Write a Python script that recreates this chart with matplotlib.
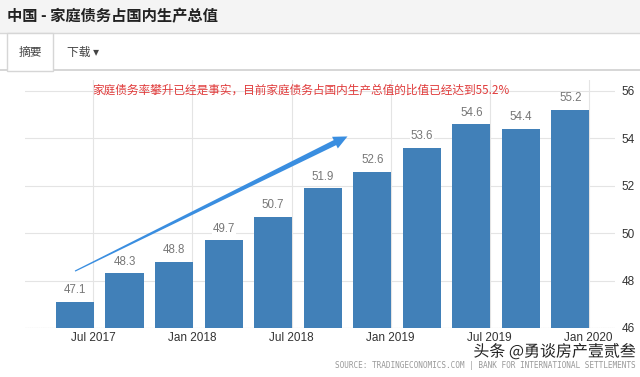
import matplotlib
matplotlib.use("Agg")
from matplotlib import pyplot as plt
from matplotlib.patches import Rectangle, Polygon
from matplotlib.lines import Line2D
import matplotlib.patheffects as pe
import numpy as np

# 数据
quarters = ["2017Q2", "2017Q3", "2017Q4", "2018Q1", "2018Q2", "2018Q3",
            "2018Q4", "2019Q1", "2019Q2", "2019Q3", "2019Q4"]
values = [47.1, 48.3, 48.8, 49.7, 50.7, 51.9, 52.6, 53.6, 54.6, 54.4, 55.2]
tick_labels = ["Jul 2017", "Jan 2018", "Jul 2018", "Jan 2019", "Jul 2019", "Jan 2020"]
tick_after = [0, 2, 4, 6, 8, 10]   # tick sits at the right edge of these bars
y_ticks = [46, 48, 50, 52, 54, 56]

title = "中国 - 家庭债务占国内生产总值"
note = "家庭债务率攀升已经是事实，目前家庭债务占国内生产总值的比值已经达到55.2%"
source = "SOURCE: TRADINGECONOMICS.COM | BANK FOR INTERNATIONAL SETTLEMENTS"
watermark = "头条 @勇谈房产壹贰叁"

CJK = ["Noto Sans CJK SC", "DejaVu Sans"]
NARROW = ["Liberation Sans Narrow", "Liberation Sans", "DejaVu Sans"]
BAR = "#4180b8"

fig = plt.figure(figsize=(6.4, 3.77), dpi=100)
fig.patch.set_facecolor("white")

# 页头
fig.patches.append(Rectangle((0, 1 - 33 / 377), 1, 33 / 377, transform=fig.transFigure,
                             facecolor="#f4f4f4", edgecolor="none", zorder=0))
fig.add_artist(Line2D([0, 1], [1 - 33 / 377] * 2, color="#d8d8d8", lw=1))
fig.add_artist(Line2D([0, 1], [1 - 70 / 377] * 2, color="#d0d0d0", lw=1.2))
fig.patches.append(Rectangle((7 / 640, 1 - 71 / 377), 46 / 640, 38 / 377, transform=fig.transFigure,
                             facecolor="white", edgecolor="#d6d6d6", lw=1, zorder=2))
fig.text(7 / 640, 1 - 16 / 377, title, family=CJK, fontsize=11, fontweight="bold",
         color="#222222", va="center", ha="left")
fig.text(30 / 640, 1 - 52 / 377, "摘要", family=CJK, fontsize=8.5, color="#444444",
         va="center", ha="center", zorder=3)
fig.text(67 / 640, 1 - 52 / 377, "下载 ▾", family=CJK, fontsize=8.5,
         color="#444444", va="center", ha="left")

# 图表
ax = fig.add_axes([25 / 640, 1 - 328 / 377, 590 / 640, 248 / 377])
x = list(range(len(values)))
ax.bar(x, [v - 46 for v in values], bottom=46, width=0.77, color=BAR, zorder=2)
for xi, v in zip(x, values):
    ax.annotate(f"{v:.1f}", (xi, v), xytext=(0, 4), textcoords="offset points",
                ha="center", va="bottom", fontsize=8.3, family=NARROW, color="#777777",
                bbox=dict(facecolor="white", edgecolor="none", pad=0.5), zorder=3)

ax.set_xlim(-1.01, 10.9)
ax.set_ylim(46, 56.46)
ax.set_xticks([i + 0.37 for i in tick_after])
ax.set_xticklabels(tick_labels, family=NARROW, fontsize=8.5, color="#333333")
ax.set_yticks(y_ticks)
ax.set_yticklabels([str(t) for t in y_ticks], family=NARROW, fontsize=8.5, color="#333333")
ax.yaxis.tick_right()
ax.tick_params(axis="both", length=0, pad=3)
ax.tick_params(axis="y", pad=5)
ax.grid(True, color="#e4e4e4", lw=0.8, zorder=0)
ax.set_axisbelow(True)
for s in ax.spines.values():
    s.set_visible(False)
ax.axhline(46, color="#cccccc", lw=0.8, ls=(0, (1, 1)), zorder=1)

# 箭头（尾部细、头部粗）
fig.canvas.draw()
p0 = ax.transData.transform((0, 48.4))
p1 = ax.transData.transform((5.5, 54.08))
d = (p1 - p0) / np.linalg.norm(p1 - p0)
n = np.array([-d[1], d[0]])
L = np.linalg.norm(p1 - p0)
head_len, head_w, tail_w0, tail_w1 = 14, 6.5, 0.6, 2.8
base = p0 + d * (L - head_len)
pts = [p0 + n * tail_w0, base + n * tail_w1, base + n * head_w, p1,
       base - n * head_w, base - n * tail_w1, p0 - n * tail_w0]
pts = ax.transData.inverted().transform(np.array(pts))
ax.add_patch(Polygon(pts, closed=True, facecolor="#3a8ee0", edgecolor="none", zorder=4))

fig.text(92 / 640, 1 - 90 / 377, note, family=CJK, fontsize=8.4, color="#e03a3a",
         va="center", ha="left")

# 页脚
fig.text(636 / 640, 1 - 365 / 377, source, family=["DejaVu Sans Mono"], fontsize=5.6,
         color="#999999", ha="right", va="center")
fig.text(636 / 640, 1 - 352 / 377, watermark, family=CJK, fontsize=11.5, color="#222222",
         ha="right", va="center",
         path_effects=[pe.withStroke(linewidth=2, foreground="white")])

fig.savefig("out.png", dpi=100)
